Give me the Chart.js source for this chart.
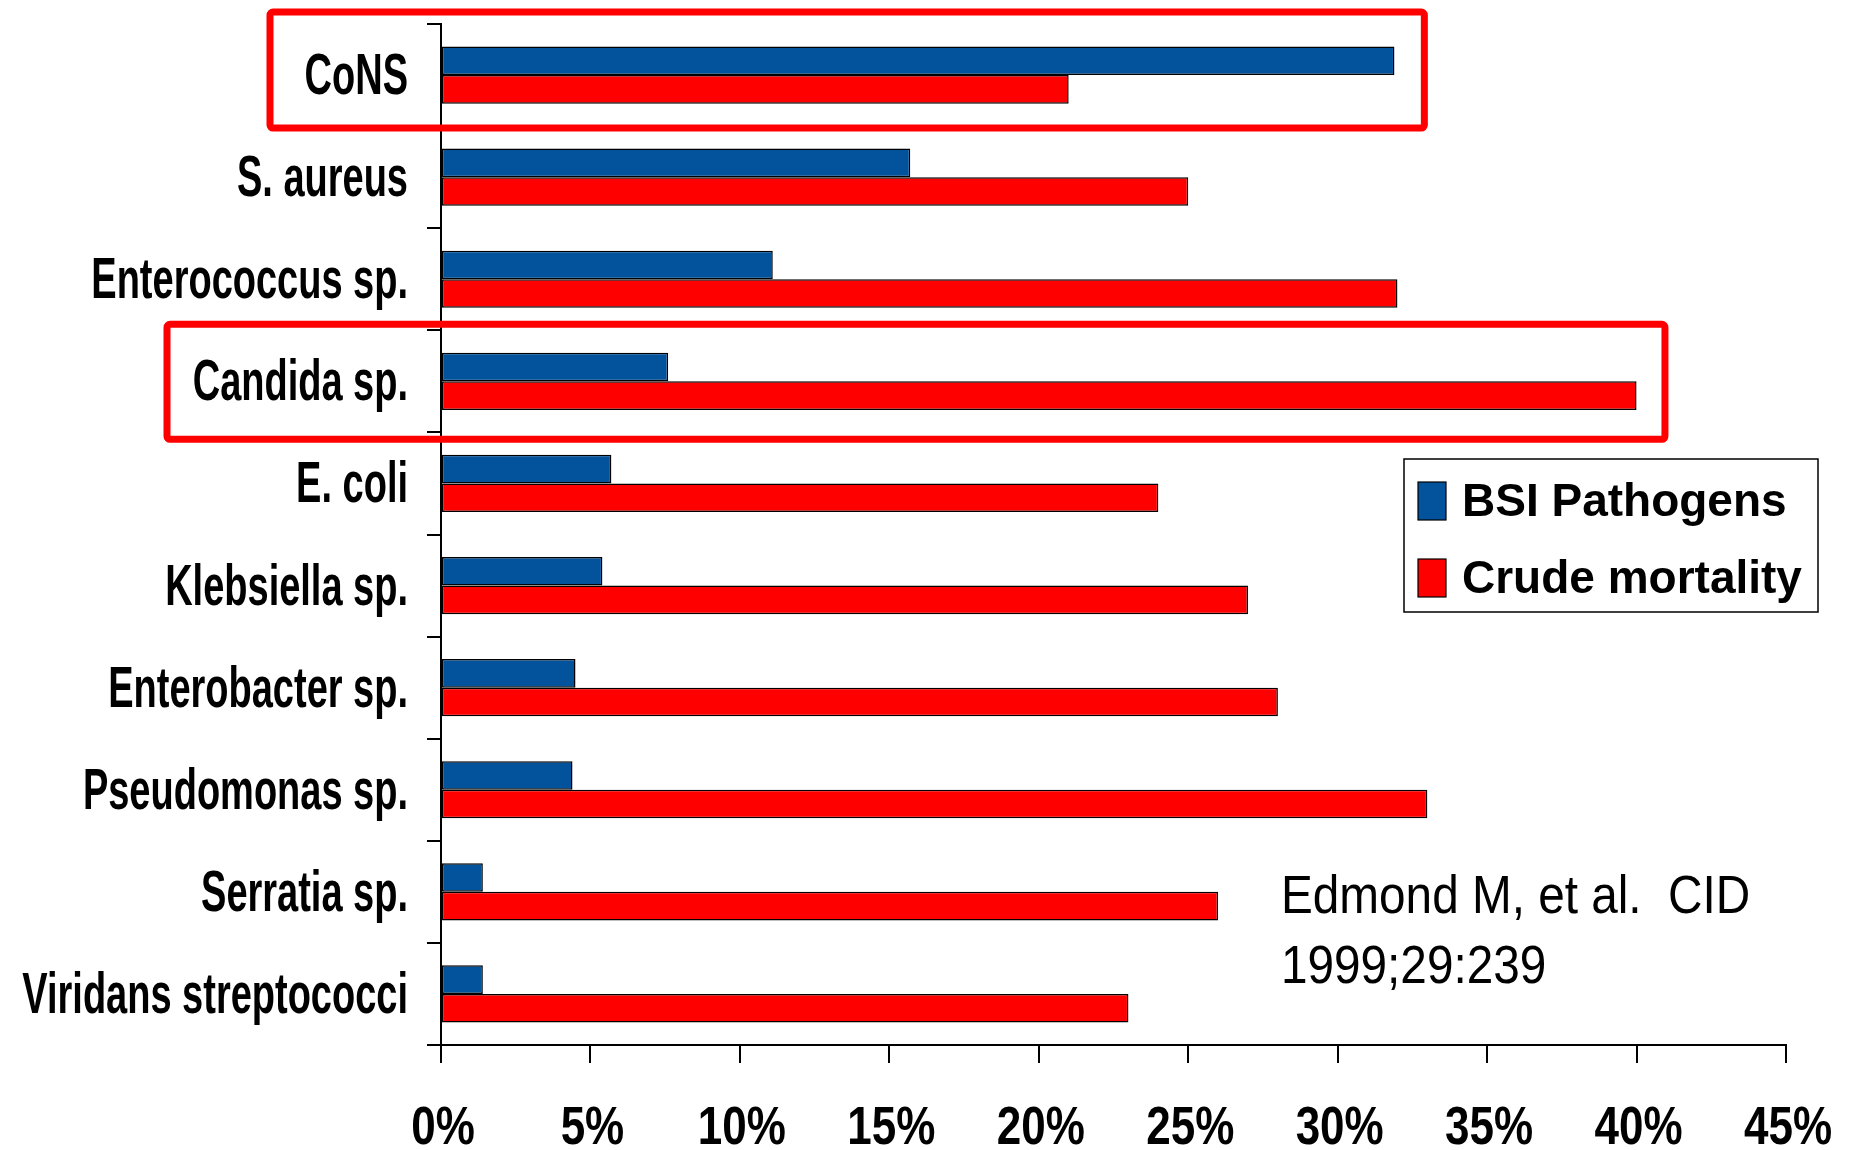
<!DOCTYPE html>
<html>
<head>
<meta charset="utf-8">
<script src="https://cdn.jsdelivr.net/npm/chart.js@4.4.1/dist/chart.umd.min.js"></script>
<style>
html,body{margin:0;padding:0;background:#fff;}
#wrap{width:1855px;height:1150px;position:relative;}
</style>
</head>
<body>
<div id="wrap"><canvas id="c" width="1855" height="1150"></canvas></div>
<script>
const categories = ["CoNS","S. aureus","Enterococcus sp.","Candida sp.","E. coli","Klebsiella sp.","Enterobacter sp.","Pseudomonas sp.","Serratia sp.","Viridans streptococci"];
const bsiPathogens = [31.9,15.7,11.1,7.6,5.7,5.4,4.5,4.4,1.4,1.4];
const crudeMortality = [21,25,32,40,24,27,28,33,26,23];
const xTickValues = [0,5,10,15,20,25,30,35,40,45];
const seriesNames = ["BSI Pathogens","Crude mortality"];
const citationLines = ["Edmond M, et al.  CID","1999;29:239"];
const highlightedCategories = ["CoNS","Candida sp."];

const FONT = "'Liberation Sans', Arial, sans-serif";
const fmtPct = v => v + '%';

// draws text condensed horizontally (the original uses a narrow typeface)
function narrowText(ctx, text, x, y, sx, align) {
  ctx.save();
  ctx.translate(x, y);
  ctx.scale(sx, 1);
  ctx.textAlign = align;
  ctx.fillText(text, 0, 0);
  ctx.restore();
}

const extrasPlugin = {
  id: 'extras',
  afterDraw(chart) {
    const ctx = chart.ctx;
    const xs = chart.scales.x, ys = chart.scales.y;

    // y tick labels (category names)
    ctx.save();
    ctx.fillStyle = '#000';
    ctx.font = "bold 58px " + FONT;
    ctx.textBaseline = 'alphabetic';
    ys.ticks.forEach((t, i) => {
      narrowText(ctx, chart.data.labels[i], ys.right - 14 - 19, ys.getPixelForTick(i) + 19, 0.655, 'right');
    });
    // x tick labels
    ctx.font = "bold 53px " + FONT;
    xs.ticks.forEach((t, i) => {
      narrowText(ctx, fmtPct(t.value), xs.getPixelForTick(i) + 2, xs.top + 99, 0.83, 'center');
    });
    ctx.restore();

    // highlight boxes
    const boxes = [
      {cat: highlightedCategories[0], left: 270, rightVal: 32.9, up: 63, down: 53},
      {cat: highlightedCategories[1], left: 167, rightVal: 40.95, up: 57, down: 58}
    ];
    ctx.save();
    ctx.strokeStyle = '#ff0000';
    ctx.lineWidth = 7;
    ctx.lineJoin = 'round';
    boxes.forEach(b => {
      const cy = ys.getPixelForValue(categories.indexOf(b.cat));
      const r = xs.getPixelForValue(b.rightVal);
      ctx.beginPath();
      ctx.roundRect(b.left, cy - b.up, r - b.left, b.up + b.down, 3);
      ctx.stroke();
    });
    ctx.restore();

    // legend
    ctx.save();
    const lx = 1404, ly = 459, lw = 414, lh = 153;
    ctx.fillStyle = '#fff';
    ctx.fillRect(lx, ly, lw, lh);
    ctx.strokeStyle = '#000';
    ctx.lineWidth = 1.5;
    ctx.strokeRect(lx, ly, lw, lh);
    ctx.font = "bold 46px " + FONT;
    ctx.textBaseline = 'middle';
    chart.data.datasets.forEach((ds, i) => {
      const cy = ly + 42 + i * 77;
      ctx.fillStyle = ds.backgroundColor;
      ctx.fillRect(lx + 14, cy - 19, 28, 38);
      ctx.strokeStyle = '#000';
      ctx.lineWidth = 1.2;
      ctx.strokeRect(lx + 14, cy - 19, 28, 38);
      ctx.fillStyle = '#000';
      ctx.fillText(ds.label, lx + 58, cy + 2);
    });
    ctx.restore();

    // citation
    ctx.save();
    ctx.fillStyle = '#000';
    ctx.font = "53px " + FONT;
    ctx.textBaseline = 'alphabetic';
    citationLines.forEach((t, i) => narrowText(ctx, t, 1281, 913 + i * 70, 0.9, 'left'));
    ctx.restore();
  }
};

new Chart(document.getElementById('c'), {
  type: 'bar',
  data: {
    labels: categories,
    datasets: [
      {label: seriesNames[0], data: bsiPathogens, backgroundColor: '#02539c', borderColor: '#000', borderWidth: 1.5, borderSkipped: false, categoryPercentage: 0.56, barPercentage: 1.0},
      {label: seriesNames[1], data: crudeMortality, backgroundColor: '#ff0000', borderColor: '#000', borderWidth: 1.5, borderSkipped: false, categoryPercentage: 0.56, barPercentage: 1.0}
    ]
  },
  options: {
    indexAxis: 'y',
    responsive: false,
    animation: false,
    layout: {padding: {left: 0, top: 24, right: 69, bottom: 0}},
    plugins: {legend: {display: false}, tooltip: {enabled: false}},
    scales: {
      x: {
        type: 'linear', min: 0, max: 45,
        afterBuildTicks(s) { s.ticks = xTickValues.map(v => ({value: v})); },
        afterFit(s) { s.height = 105; },
        border: {display: true, color: '#000', width: 2},
        grid: {display: true, drawOnChartArea: false, drawTicks: true, tickLength: 18, color: '#000', lineWidth: 2},
        ticks: {display: false, callback: fmtPct}
      },
      y: {
        afterFit(s) { s.width = 441; },
        border: {display: true, color: '#000', width: 2},
        grid: {display: true, offset: true, drawOnChartArea: false, drawTicks: true, tickLength: 14, color: '#000', lineWidth: 2},
        ticks: {display: false, autoSkip: false}
      }
    }
  },
  plugins: [extrasPlugin]
});
</script>
</body>
</html>
